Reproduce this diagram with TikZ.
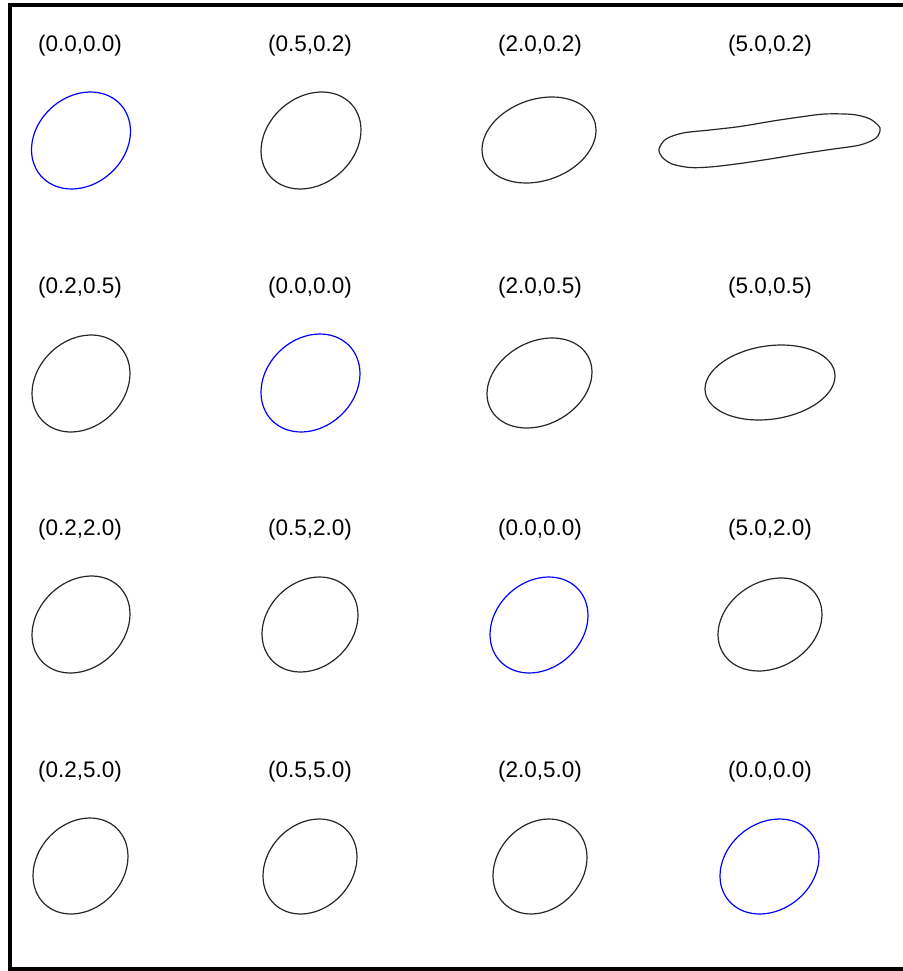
\documentclass[tikz,border=0pt]{standalone}
\usepackage{fontspec}
\setmainfont{Liberation Sans}
\newcommand{\eggshape}[6]{\draw[#1] plot[smooth cycle, domain=0:350, samples=36, variable=\t] ({#2+#4*cos(\t)},{#3-#5*sin(\t+#6)});}
\tikzset{
  lbl/.style={font=\fontsize{22.5}{26}\selectfont, inner sep=0pt, anchor=center},
  ref/.style={draw=blue, line width=1.2pt},
  curve/.style={draw=black!85, line width=1.2pt},
  frame/.style={draw=black, line width=3.5pt, line cap=rect}
}
\begin{document}
\begin{tikzpicture}[x=1pt,y=-1pt]
\useasboundingbox (0,0) rectangle (902,971);
\coordinate (ftr) at (905,5);
\coordinate (ftl) at (10,5);
\coordinate (fbl) at (10,969);
\coordinate (fbr) at (905,969);
\draw[frame] (ftl) -- (ftr);
\draw[frame] (ftl) -- (fbl);
\draw[frame] (fbl) -- (fbr);
% labels
\node[lbl] (l11) at (80,46) {(0.0,0.0)};
\node[lbl] (l12) at (310,46) {(0.5,0.2)};
\node[lbl] (l13) at (540,46) {(2.0,0.2)};
\node[lbl] (l14) at (770,46) {(5.0,0.2)};
\node[lbl] (l21) at (80,288) {(0.2,0.5)};
\node[lbl] (l22) at (310,288) {(0.0,0.0)};
\node[lbl] (l23) at (540,288) {(2.0,0.5)};
\node[lbl] (l24) at (770,288) {(5.0,0.5)};
\node[lbl] (l31) at (80,530) {(0.2,2.0)};
\node[lbl] (l32) at (310,530) {(0.5,2.0)};
\node[lbl] (l33) at (540,530) {(0.0,0.0)};
\node[lbl] (l34) at (770,530) {(5.0,2.0)};
\node[lbl] (l41) at (80,772) {(0.2,5.0)};
\node[lbl] (l42) at (310,772) {(0.5,5.0)};
\node[lbl] (l43) at (540,772) {(2.0,5.0)};
\node[lbl] (l44) at (770,772) {(0.0,0.0)};
% row 1
\eggshape{ref}{81}{140.5}{49.5}{48.5}{11}
\eggshape{curve}{311}{140.5}{50}{48.5}{12.5}
\eggshape{curve}{539}{140}{57}{43}{13}
\draw[curve] plot[smooth cycle] coordinates {(659,149) (666,139) (683,133) (710,130) (740,126.5) (773,121) (800,117) (825,114) (853,114.5) (870,119) (880,128) (876,138) (860,145) (830,149.5) (800,154) (773,158.5) (740,163.5) (710,167) (690,167.5) (672,164) (662,157)};
% row 2
\eggshape{curve}{81}{383.5}{49}{48.5}{12}
\eggshape{ref}{310.5}{383}{49.5}{49}{11}
\eggshape{curve}{539.5}{383}{52.5}{45}{14}
\eggshape{curve}{770}{382.5}{65}{37.5}{10}
% row 3
\eggshape{curve}{81}{624.5}{49}{48.5}{12.5}
\eggshape{curve}{310}{624.5}{48}{47.5}{11.5}
\eggshape{ref}{539}{625}{49}{48}{11.5}
\eggshape{curve}{770}{624.5}{52}{46.5}{12.5}
% row 4
\eggshape{curve}{80.5}{866}{47.5}{48}{11.5}
\eggshape{curve}{310}{866.5}{47}{47.5}{11.5}
\eggshape{curve}{540}{866.5}{47}{47.5}{11}
\eggshape{ref}{769.5}{866.5}{49.5}{47.5}{11.5}
\end{tikzpicture}
\end{document}
